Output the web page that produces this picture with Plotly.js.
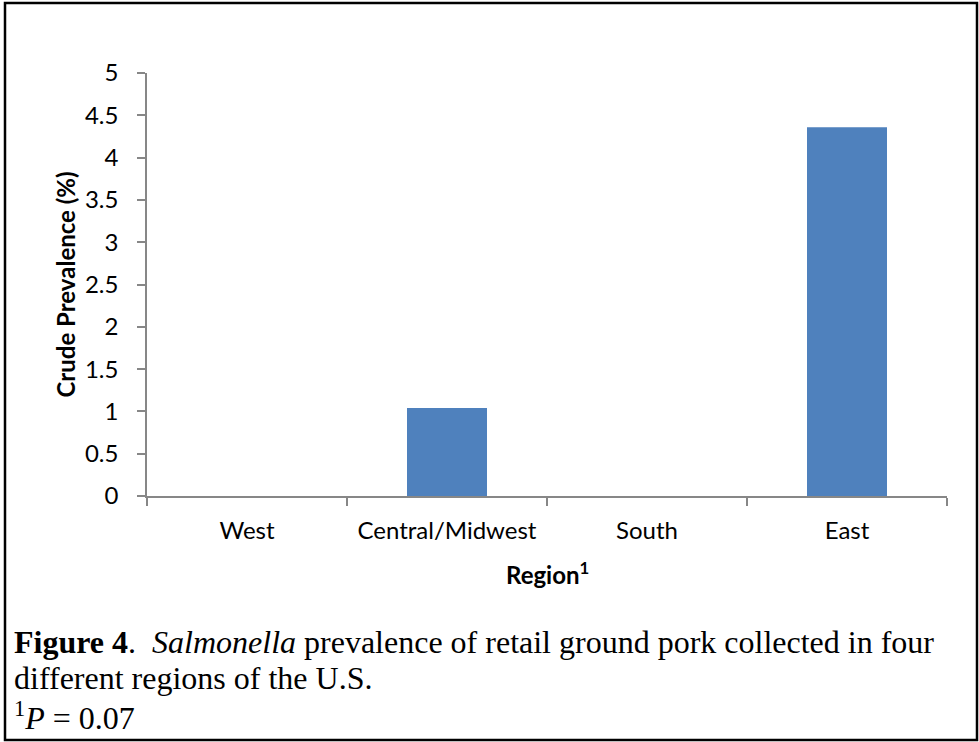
<!DOCTYPE html>
<html>
<head>
<meta charset="utf-8">
<script src="https://cdn.plot.ly/plotly-3.0.1.min.js"></script>
<style>html,body{margin:0;padding:0;background:#fff;}#chart{width:979px;height:742px;}</style>
</head>
<body>
<div id="chart"></div>
<script>
const regions = ["West", "Central/Midwest", "South", "East"];
const prevalence = [0, 1.04, 0, 4.36];
const yTickValues = [0, 0.5, 1, 1.5, 2, 2.5, 3, 3.5, 4, 4.5, 5];
const yTickLabels = ["0", "0.5", "1", "1.5", "2", "2.5", "3", "3.5", "4", "4.5", "5"];
const xTitle = "Region<sup>1</sup>";
const yTitle = "Crude Prevalence (%)";
const captionLines = [
  "<b>Figure 4</b>.  <i>Salmonella</i> prevalence of retail ground pork collected in four",
  "different regions of the U.S.",
  "<sup>1</sup><i>P</i> = 0.07"
];

const W = 979, H = 742;
const L = 147, R = 947, T = 73, B = 496;
const px = x => (x - L) / (R - L);
const py = y => (B - y) / (B - T);

const tickFont = {family: "Lato, 'Open Sans', sans-serif", size: 24, color: "#000"};
const axisColor = "#878787";

const data = [{
  type: "bar",
  x: regions,
  y: prevalence,
  marker: {color: "#4F81BD"},
  hoverinfo: "x+y"
}];

const captionY = [642, 678, 716];
const annotations = [
  {text: xTitle, xref: "paper", yref: "paper", x: 0.5, y: py(573), xanchor: "center", yanchor: "middle",
   showarrow: false, font: {family: "Lato, sans-serif", size: 24, color: "#000", weight: "bold"}},
  {text: yTitle, xref: "paper", yref: "paper", x: px(65), y: 0.5, xanchor: "center", yanchor: "middle",
   textangle: -90, showarrow: false, font: {family: "Lato, sans-serif", size: 24, color: "#000", weight: "bold"}}
].concat(captionLines.map((t, i) => ({
  text: t, xref: "paper", yref: "paper", x: px(12), y: py(captionY[i]), xanchor: "left", yanchor: "middle",
  showarrow: false, align: "left",
  font: {family: "'Liberation Serif', 'Times New Roman', serif", size: 32, color: "#000"}
})));

const layout = {
  width: W, height: H,
  margin: {l: L, r: W - R, t: T, b: H - B, pad: 0},
  paper_bgcolor: "#fff", plot_bgcolor: "#fff",
  showlegend: false,
  bargap: 0.6,
  xaxis: {
    type: "category",
    showline: true, linecolor: axisColor, linewidth: 1.5,
    ticks: "outside", ticklen: 8, tickcolor: axisColor, tickwidth: 1.5,
    tickson: "boundaries",
    showgrid: false, zeroline: false,
    tickfont: tickFont,
    ticklabelstandoff: 12,
    fixedrange: true
  },
  yaxis: {
    range: [0, 5],
    tickvals: yTickValues, ticktext: yTickLabels,
    showline: true, linecolor: axisColor, linewidth: 1.5,
    ticks: "outside", ticklen: 8, tickcolor: axisColor, tickwidth: 1.5,
    showgrid: false, zeroline: false,
    tickfont: tickFont,
    ticklabelstandoff: 14,
    fixedrange: true
  },
  annotations: annotations,
  shapes: [{
    type: "rect", xref: "paper", yref: "paper",
    x0: px(5), x1: px(977), y0: py(740), y1: py(3),
    line: {color: "#000", width: 2.5}, fillcolor: "rgba(0,0,0,0)", layer: "above"
  }]
};

Plotly.newPlot("chart", data, layout, {displayModeBar: false});
</script>
</body>
</html>
